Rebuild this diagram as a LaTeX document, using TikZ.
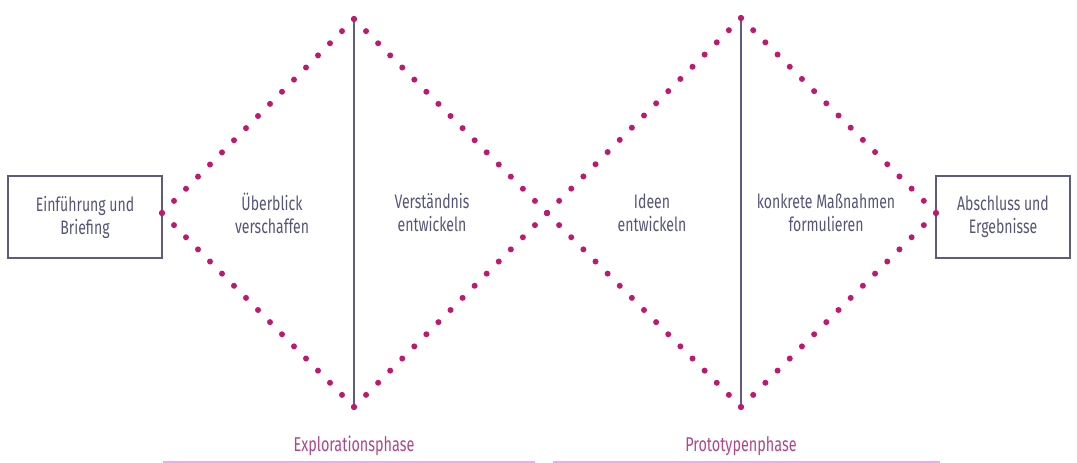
\documentclass[tikz,border=0pt]{standalone}
\usepackage{fontspec}
\setmainfont[FakeStretch=0.72]{Fira Sans}
\usetikzlibrary{calc}
\definecolor{dotc}{HTML}{C0186E}
\definecolor{linec}{HTML}{5B5B85}
\definecolor{txtc}{HTML}{55557A}
\definecolor{phasec}{HTML}{B0468A}
\definecolor{phaseline}{HTML}{F7A8E6}
\tikzset{
  box/.style={draw=linec, line width=1.3pt, minimum width=154pt, minimum height=82pt, align=center, text=txtc, font=\fontsize{19.5}{23}\selectfont, inner sep=0pt},
  lbl/.style={align=center, text=txtc, font=\fontsize{19.5}{23}\selectfont},
  phase/.style={text=phasec, font=\fontsize{20}{24}\selectfont},
  axis/.style={draw=linec, line width=1.2pt},
  pline/.style={draw=phaseline, line width=1.6pt},
  dot/.style={fill=dotc}
}
\newcommand{\dotedge}[3]{%
  \foreach \t in {0,...,#3} {\fill[dot] ($(#1)!\t/#3!(#2)$) circle (3pt);}}
\begin{document}
\begin{tikzpicture}[x=1pt,y=-1pt]
\useasboundingbox (0,0) rectangle (1077,463);
% vertices
\coordinate (L1) at (162,213);
\coordinate (T1) at (354,19);
\coordinate (B1) at (354,407);
\coordinate (C) at (547,213);
\coordinate (T2) at (741,18);
\coordinate (B2) at (741,407);
\coordinate (R2) at (936,213);
% boxes
\node[box] (start) at (85,217) {Einführung und\\Briefing};
\node[box, minimum width=134pt] (end) at (1003,217) {Abschluss und\\Ergebnisse};
% axes
\draw[axis] (T1) -- (B1);
\draw[axis] (T2) -- (B2);
% dotted diamonds
\dotedge{L1}{T1}{16}
\dotedge{T1}{C}{16}
\dotedge{L1}{B1}{16}
\dotedge{B1}{C}{16}
\dotedge{C}{T2}{16}
\dotedge{T2}{R2}{16}
\dotedge{C}{B2}{16}
\dotedge{B2}{R2}{16}
% labels
\node[lbl] (a) at (272,213) {Überblick\\verschaffen};
\node[lbl] (b) at (432,213) {Verständnis\\entwickeln};
\node[lbl] (c) at (652,213) {Ideen\\entwickeln};
\node[lbl] (d) at (826,213) {konkrete Maßnahmen\\formulieren};
% phases
\node[phase] (p1) at (354,446) {Explorationsphase};
\node[phase] (p2) at (741,446) {Prototypenphase};
\coordinate (p1a) at (163,462); \coordinate (p1b) at (535,462);
\coordinate (p2a) at (553,462); \coordinate (p2b) at (940,462);
\draw[pline] (p1a) -- (p1b);
\draw[pline] (p2a) -- (p2b);
\end{tikzpicture}
\end{document}
